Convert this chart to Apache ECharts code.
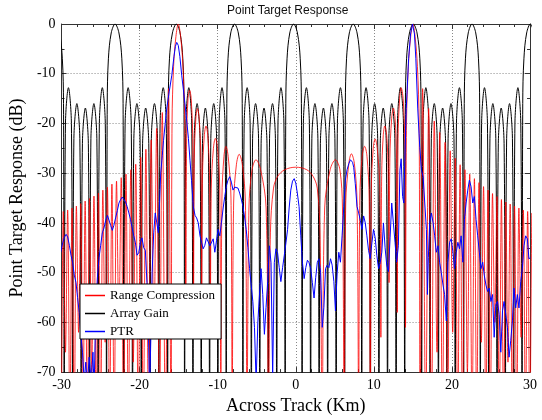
<!DOCTYPE html>
<html>
<head>
<meta charset="utf-8">
<script src="https://cdn.jsdelivr.net/npm/echarts@6/dist/echarts.min.js"></script>
<style>
  html, body { margin: 0; padding: 0; background: #fff; }
  #chart { width: 542px; height: 420px; }
</style>
</head>
<body>
<div id="chart"></div>
<script>
// [across track km, dB]
const seriesNames = ['Range Compression', 'Array Gain', 'PTR'];
const xTicks = [-30, -20, -10, 0, 10, 20, 30];
const yTicks = [0, -10, -20, -30, -40, -50, -60, -70];

const arrayGain = [
  [-30.75,0],[-30.26,-1.8],[-29.90,-7],[-29.75,-16],[-29.66,-80],[-29.50,-20],[-29.12,-12.8],[-28.74,-20],[-28.58,-80],[-28.42,-23],[-28.04,-16],[-27.66,-23],[-27.49,-80],[-27.33,-24],[-26.95,-16.9],[-26.57,-24],[-26.41,-80],[-26.24,-23],[-25.86,-16],[-25.48,-23],[-25.32,-80],[-25.16,-20],[-24.78,-12.8],[-24.40,-20],[-24.24,-80],[-24.15,-16],[-24.00,-7],[-23.64,-1.8],
  [-23.15,0],[-22.65,-1.8],[-22.28,-7],[-22.12,-16],[-22.03,-80],[-21.86,-20],[-21.47,-12.8],[-21.08,-20],[-20.91,-80],[-20.74,-23],[-20.35,-16],[-19.95,-23],[-19.79,-80],[-19.62,-24],[-19.23,-16.9],[-18.83,-24],[-18.66,-80],[-18.50,-23],[-18.10,-16],[-17.71,-23],[-17.54,-80],[-17.38,-20],[-16.98,-12.8],[-16.59,-20],[-16.42,-80],[-16.33,-16],[-16.18,-7],[-15.80,-1.8],
  [-15.30,0],[-14.82,-1.8],[-14.47,-7],[-14.32,-16],[-14.24,-80],[-14.08,-20],[-13.70,-12.8],[-13.33,-20],[-13.17,-80],[-13.01,-23],[-12.64,-16],[-12.27,-23],[-12.11,-80],[-11.95,-24],[-11.58,-16.9],[-11.20,-24],[-11.04,-80],[-10.88,-23],[-10.51,-16],[-10.14,-23],[-9.98,-80],[-9.82,-20],[-9.45,-12.8],[-9.07,-20],[-8.91,-80],[-8.83,-16],[-8.68,-7],[-8.33,-1.8],
  [-7.85,0],[-7.36,-1.8],[-7.01,-7],[-6.86,-16],[-6.77,-80],[-6.61,-20],[-6.23,-12.8],[-5.85,-20],[-5.69,-80],[-5.53,-23],[-5.15,-16],[-4.77,-23],[-4.61,-80],[-4.44,-24],[-4.07,-16.9],[-3.69,-24],[-3.52,-80],[-3.36,-23],[-2.98,-16],[-2.61,-23],[-2.44,-80],[-2.28,-20],[-1.90,-12.8],[-1.52,-20],[-1.36,-80],[-1.28,-16],[-1.12,-7],[-0.77,-1.8],
  [-0.28,0],[0.21,-1.8],[0.57,-7],[0.72,-16],[0.81,-80],[0.97,-20],[1.36,-12.8],[1.74,-20],[1.90,-80],[2.06,-23],[2.45,-16],[2.83,-23],[2.99,-80],[3.15,-24],[3.54,-16.9],[3.92,-24],[4.08,-80],[4.24,-23],[4.63,-16],[5.01,-23],[5.17,-80],[5.33,-20],[5.72,-12.8],[6.10,-20],[6.26,-80],[6.35,-16],[6.50,-7],[6.86,-1.8],
  [7.35,0],[7.85,-1.8],[8.21,-7],[8.36,-16],[8.45,-80],[8.62,-20],[9.00,-12.8],[9.39,-20],[9.55,-80],[9.72,-23],[10.10,-16],[10.49,-23],[10.65,-80],[10.82,-24],[11.20,-16.9],[11.59,-24],[11.75,-80],[11.92,-23],[12.30,-16],[12.69,-23],[12.85,-80],[13.02,-20],[13.40,-12.8],[13.79,-20],[13.95,-80],[14.04,-16],[14.19,-7],[14.56,-1.8],
  [15.05,0],[15.53,-1.8],[15.89,-7],[16.04,-16],[16.12,-80],[16.29,-20],[16.66,-12.8],[17.04,-20],[17.20,-80],[17.36,-23],[17.74,-16],[18.11,-23],[18.27,-80],[18.43,-24],[18.81,-16.9],[19.19,-24],[19.35,-80],[19.51,-23],[19.88,-16],[20.26,-23],[20.42,-80],[20.58,-20],[20.96,-12.8],[21.34,-20],[21.50,-80],[21.58,-16],[21.73,-7],[22.09,-1.8],
  [22.57,0],[23.05,-1.8],[23.40,-7],[23.55,-16],[23.64,-80],[23.80,-20],[24.17,-12.8],[24.55,-20],[24.71,-80],[24.87,-23],[25.24,-16],[25.62,-23],[25.78,-80],[25.94,-24],[26.31,-16.9],[26.68,-24],[26.84,-80],[27.01,-23],[27.38,-16],[27.75,-23],[27.91,-80],[28.07,-20],[28.45,-12.8],[28.82,-20],[28.98,-80],[29.07,-16],[29.22,-7],[29.57,-1.8],
  [30.05,0],[30.53,-1.8]
];

const rangeCompression = [
  [-30.62,-80],[-30.34,-38],[-30.06,-80],[-29.78,-37.7],[-29.5,-66],[-29.22,-37.4],[-28.94,-80],[-28.66,-37],[-28.38,-80],[-28.1,-36.6],[-27.82,-62],[-27.54,-36.1],[-27.26,-80],[-26.98,-35.6],[-26.7,-80],[-26.42,-35.1],[-26.14,-70],[-25.85,-34.6],[-25.57,-80],[-25.28,-34],[-24.99,-80],[-24.71,-33.4],[-24.42,-64],[-24.13,-32.8],[-23.84,-80],[-23.55,-32.2],[-23.26,-80],[-22.96,-31.6],[-22.66,-60],[-22.36,-30.9],[-22.06,-80],[-21.75,-30.2],[-21.44,-80],[-21.13,-29.3],[-20.82,-68],[-20.5,-28.2],[-20.18,-80],[-19.86,-26.8],[-19.53,-80],[-19.2,-25.2],[-18.86,-80],[-18.52,-23.3],[-18.17,-62],[-17.82,-21],[-17.46,-80],[-17.1,-17.8],[-16.7,-80],[-16.3,-13],[-15.98,-80],
  [-15.85,-20],[-15.65,-8.5],[-15.35,-2.5],[-15.05,0],[-14.75,-2.5],[-14.45,-8.5],[-14.22,-20],[-14.08,-62],
  [-13.98,-23],[-13.8,-15],[-13.6,-13.3],[-13.4,-15],[-13.2,-23],[-13.1,-58],
  [-13.0,-27],[-12.8,-19],[-12.6,-17],[-12.38,-19],[-12.15,-27],[-12.05,-54],
  [-11.95,-30.5],[-11.72,-22.5],[-11.5,-20.5],[-11.27,-22.5],[-11.05,-30.5],[-10.95,-63],
  [-10.82,-33],[-10.55,-25],[-10.3,-23],[-10.02,-25],[-9.74,-33],[-9.6,-80],
  [-9.46,-35],[-9.2,-26.6],[-8.95,-24.6],[-8.66,-26.6],[-8.3,-35],[-8.15,-80],
  [-7.96,-36],[-7.6,-28.2],[-7.25,-26.2],[-6.85,-28.2],[-6.45,-36],[-6.25,-80],
  [-6.0,-37],[-5.6,-29.3],[-5.1,-27.3],[-4.5,-29.3],[-3.8,-37],[-3.5,-80],
  [-3.25,-42],[-2.85,-33],[-2.3,-30.6],[-1.4,-29.3],[0,-28.8],[1.4,-29.3],[2.2,-30.6],[2.75,-33],[3.1,-42],[3.38,-80],
  [3.7,-37],[4.4,-29.3],[5.08,-27.3],[5.65,-29.3],[5.98,-37],[6.2,-80],
  [6.4,-36],[6.8,-28],[7.12,-26.1],[7.5,-28],[7.85,-36],[8.05,-80],
  [8.2,-35],[8.5,-26.6],[8.82,-24.6],[9.12,-26.6],[9.4,-35],[9.55,-80],
  [9.68,-33],[9.92,-25],[10.17,-23.1],[10.43,-25],[10.77,-33],[10.9,-63],
  [11.0,-30.5],[11.2,-22.5],[11.4,-20.5],[11.65,-22.5],[11.85,-30.5],[11.95,-52],
  [12.05,-27],[12.28,-19],[12.5,-16.9],[12.72,-19],[12.9,-27],[13.0,-58],
  [13.1,-23],[13.3,-15],[13.5,-12.8],[13.75,-15],[13.95,-23],[14.05,-61],
  [14.18,-20],[14.42,-8.5],[14.72,-2.5],[15.0,0],[15.28,-2.5],[15.58,-8.5],[15.8,-20],[15.92,-80],
  [16.25,-13],[16.64,-80],[17.02,-17],[17.38,-80],[17.74,-19.5],[18.09,-66],[18.44,-21.8],[18.78,-80],[19.12,-23.8],[19.45,-80],[19.78,-25.5],[20.1,-62],[20.42,-27],[20.74,-80],[21.05,-28.3],[21.36,-80],[21.67,-29.3],[21.98,-70],[22.28,-30.2],[22.58,-80],[22.88,-31.1],[23.18,-80],[23.47,-31.9],[23.76,-64],[24.05,-32.7],[24.34,-80],[24.63,-33.4],[24.92,-80],[25.2,-34.1],[25.49,-60],[25.77,-34.7],[26.06,-80],[26.34,-35.3],[26.62,-80],[26.9,-35.8],[27.18,-68],[27.46,-36.2],[27.74,-80],[28.02,-36.6],[28.3,-80],[28.58,-37],[28.86,-63],[29.14,-37.4],[29.42,-80],[29.7,-37.7],[29.98,-80],[30.26,-38],[30.54,-80]
];

const ptr = [
  [-30.2,-46.5],[-30.06,-46.2],[-29.85,-44],[-29.64,-42.9],[-29.42,-42.3],[-29.22,-42.8],[-29.0,-44.5],[-28.79,-46.5],[-28.58,-48],[-28.37,-50.5],[-28.15,-52],[-27.95,-55],[-27.74,-58],[-27.55,-62],[-27.32,-66],[-27.1,-72],[-26.9,-68],[-26.7,-73],[-26.47,-67],[-26.2,-72],[-25.98,-66],[-25.84,-74],[-25.62,-58],[-25.41,-51],[-25.2,-47],[-24.99,-44.5],[-24.78,-42],[-24.56,-41],[-24.35,-39.5],[-24.12,-38.5],[-23.93,-38.3],[-23.71,-40.5],[-23.5,-41.5],[-23.3,-40.5],[-23.08,-39],[-22.85,-37.5],[-22.65,-36],[-22.44,-35.3],[-22.22,-34.8],[-22.02,-35.2],[-21.8,-35.8],[-21.6,-36.7],[-21.38,-38],[-21.17,-39.3],[-20.96,-41],[-20.75,-42.6],[-20.54,-44],[-20.33,-46.5],[-20.12,-46],[-19.9,-44],[-19.7,-43],[-19.48,-45],[-19.27,-45.5],[-19.06,-52],[-18.9,-60],[-18.72,-74],[-18.55,-62],[-18.4,-50],[-18.2,-42],[-18.0,-38],[-17.8,-40],[-17.6,-42],[-17.45,-36],[-17.3,-30],[-17.1,-26.5],[-16.94,-23.4],[-16.72,-20],[-16.52,-16.9],[-16.2,-13.5],[-15.88,-10.3],[-15.6,-6.5],[-15.42,-4.5],[-15.25,-3.7],[-15.05,-4.3],[-14.85,-6.5],[-14.61,-10.3],[-14.3,-14.5],[-13.98,-19.3],[-13.75,-23],[-13.55,-27.4],[-13.35,-31.5],[-13.13,-36.7],
  [-12.9,-38.5],[-12.7,-39],[-12.49,-40],[-12.27,-42.6],[-12.05,-44],[-11.86,-45.2],[-11.65,-44.5],[-11.44,-43],[-11.22,-43.2],[-11.0,-44.6],[-10.8,-44.6],[-10.58,-43.2],[-10.37,-45.9],[-10.15,-43.5],[-9.95,-41.3],[-9.73,-42.6],[-9.53,-40],[-9.3,-37],[-9.1,-34.7],[-8.88,-32.5],[-8.68,-31.4],[-8.46,-30.7],[-8.25,-31.8],[-8.04,-33.4],[-7.82,-32.8],[-7.62,-32.4],[-7.4,-33],[-7.19,-34],[-6.98,-35.2],[-6.77,-36.7],[-6.56,-38.8],[-6.35,-41.3],[-6.13,-45],[-5.92,-49.2],[-5.71,-52.5],[-5.5,-55.8],[-5.29,-61],[-5.08,-72],[-4.86,-60],[-4.65,-54.4],[-4.45,-49.2],[-4.23,-54.4],[-4.02,-62.4],[-3.81,-57],[-3.6,-51.8],[-3.38,-44.6],[-3.17,-48],[-2.96,-71],[-2.75,-48],[-2.54,-45.2],[-2.33,-46],[-2.12,-49],[-1.91,-51.8],[-1.69,-49],[-1.47,-46.5],[-1.26,-44],[-1.05,-41.3],[-0.85,-37],[-0.64,-33.4],[-0.42,-31.6],[-0.2,-31.1],
  [0.0,-32],[0.2,-34],[0.42,-36.7],[0.64,-42.6],[0.85,-47.9],[1.07,-51.2],[1.28,-49],[1.49,-47.5],[1.7,-48],[1.91,-49.2],[2.12,-52],[2.34,-55.1],[2.55,-51],[2.76,-47.9],[2.97,-47.2],[3.18,-50],[3.39,-61],[3.6,-57],[3.81,-49.2],[4.02,-48.5],[4.24,-49],[4.45,-47.2],[4.66,-48.5],[4.88,-51.8],[5.08,-57.7],[5.3,-50],[5.51,-45.9],[5.72,-47.9],[5.93,-42.6],[6.15,-36.7],[6.35,-31.4],[6.57,-29.3],[6.79,-28.1],[7.0,-27.3],[7.12,-27.1],[7.27,-27.8],[7.42,-28.8],[7.62,-32.1],[7.84,-36.7],[8.06,-38],[8.27,-39.5],[8.48,-41.3],[8.69,-38.6],[8.9,-40],[9.11,-42.6],[9.32,-45.5],[9.53,-47.2],[9.75,-44],[9.96,-41.3],[10.17,-43],[10.38,-46.5],[10.6,-49.2],[10.81,-48],[11.02,-45.9],[11.23,-40],[11.44,-45],[11.65,-48.5],[11.87,-49.8],[12.08,-43],[12.29,-36],[12.5,-40],[12.71,-43.9],[12.92,-47.9],[13.14,-44.6],[13.34,-29.4],[13.5,-27.1],[13.68,-34.7],[13.84,-36],
  [13.97,-27],[14.15,-17],[14.45,-7],[14.7,-2],[14.95,0],[15.2,-2],[15.38,-7],[15.62,-16.9],[15.88,-24.8],[16.1,-29.4],[16.31,-30.7],[16.52,-36],[16.73,-41.3],[16.86,-54.4],[16.98,-47],[17.15,-40],[17.37,-38],[17.59,-40],[17.79,-42.6],[18.0,-45.9],[18.22,-44.6],[18.42,-47.9],[18.64,-50],[18.86,-52.5],[19.06,-54.4],[19.28,-59.7],[19.49,-47.9],[19.7,-43.9],[19.91,-43.2],[20.13,-45.9],[20.33,-49.2],[20.55,-46],[20.76,-43.9],[20.97,-45.2],[21.18,-42.6],[21.4,-47.9],[21.6,-39.3],[21.82,-36],[22.03,-33.4],[22.24,-31.4],[22.45,-32.7],[22.67,-36],[22.87,-34.7],[23.09,-39.3],[23.3,-42.6],[23.51,-45.9],[23.72,-49.2],[23.94,-47.9],[24.14,-50.5],[24.36,-52.5],[24.57,-53.8],[24.78,-53.1],[24.99,-55.8],[25.21,-54.4],[25.41,-63],[25.63,-56.4],[25.84,-55.8],[26.05,-58.4],[26.26,-66],[26.48,-57.7],[26.68,-55.8],[26.9,-58.4],[27.11,-61],[27.32,-67],[27.53,-63.7],[27.75,-59.7],[27.95,-53.1],[28.17,-57.1],[28.38,-54.4],[28.59,-57.1],[28.81,-51.8],[29.02,-49.2],[29.23,-44.6],[29.44,-42.6],[29.66,-43.2],[29.86,-47.2],[30.05,-47]
];

const serif = "'Liberation Serif', 'DejaVu Serif', serif";
const frame = '#333';

function axisBase(extra) {
  return Object.assign({
    type: 'value',
    axisLine: { show: true, onZero: false, lineStyle: { color: frame, width: 1 } },
    axisTick: { show: true, inside: true, length: 5, lineStyle: { color: frame } },
    minorTick: { show: true, length: 3, lineStyle: { color: frame } },
    splitLine: { show: false },
    axisLabel: { show: false }
  }, extra);
}

const chart = echarts.init(document.getElementById('chart'), null, { renderer: 'canvas' });

chart.setOption({
  animation: false,
  backgroundColor: '#fff',
  title: {
    text: 'Point Target Response',
    left: 227,
    top: 5,
    padding: 0,
    textStyle: { fontFamily: "'Liberation Sans', Arial, sans-serif", fontSize: 12, fontWeight: 'normal', color: '#111' }
  },
  grid: { left: 57, right: 12, top: 24, bottom: 41 },
  legend: {
    data: seriesNames,
    orient: 'vertical',
    left: 80,
    top: 284,
    padding: [5, 6, 1, 5],
    itemGap: 5,
    itemWidth: 20,
    itemHeight: 1.5,
    icon: 'rect',
    backgroundColor: '#fff',
    borderColor: '#000',
    borderWidth: 1,
    selectedMode: false,
    textStyle: { fontFamily: serif, fontSize: 13, color: '#000', lineHeight: 12 }
  },
  xAxis: [
    axisBase({
      min: xTicks[0], max: xTicks[xTicks.length - 1], interval: 10,
      position: 'bottom',
      minorTick: { show: true, splitNumber: 5, length: 3, lineStyle: { color: frame } },
      splitLine: { show: true, lineStyle: { type: [1, 2], color: '#888', width: 1 } },
      axisLabel: { show: true, fontFamily: serif, fontSize: 14, color: '#000', margin: 6 },
      name: 'Across Track (Km)',
      nameLocation: 'middle',
      nameGap: 17,
      nameTextStyle: { fontFamily: serif, fontSize: 18, color: '#000' }
    }),
    axisBase({
      min: xTicks[0], max: xTicks[xTicks.length - 1], interval: 10,
      position: 'top',
      minorTick: { show: true, splitNumber: 5, length: 3, lineStyle: { color: frame } }
    })
  ],
  yAxis: [
    axisBase({
      min: yTicks[yTicks.length - 1], max: yTicks[0], interval: 10,
      position: 'left',
      minorTick: { show: true, splitNumber: 2, length: 3, lineStyle: { color: frame } },
      splitLine: { show: true, lineStyle: { type: [1, 2], color: '#888', width: 1 } },
      axisLabel: { show: true, fontFamily: serif, fontSize: 14, color: '#000', margin: 6 },
      name: 'Point Target Response (dB)',
      nameLocation: 'middle',
      nameGap: 28,
      nameTextStyle: { fontFamily: serif, fontSize: 18, color: '#000' }
    }),
    axisBase({
      min: yTicks[yTicks.length - 1], max: yTicks[0], interval: 10,
      position: 'right',
      minorTick: { show: true, splitNumber: 2, length: 3, lineStyle: { color: frame } }
    })
  ],
  series: [
    {
      name: 'Array Gain', type: 'line', data: arrayGain,
      showSymbol: false, symbol: 'none', smooth: 0.35, clip: true,
      lineStyle: { color: '#000', width: 1 }, itemStyle: { color: '#000' }
    },
    {
      name: 'Range Compression', type: 'line', data: rangeCompression,
      showSymbol: false, symbol: 'none', smooth: 0.35, clip: true,
      lineStyle: { color: '#ff0000', width: 0.8 }, itemStyle: { color: '#ff0000' }
    },
    {
      name: 'PTR', type: 'line', data: ptr,
      showSymbol: false, symbol: 'none', smooth: false, clip: true,
      lineStyle: { color: '#0000ff', width: 1 }, itemStyle: { color: '#0000ff' }
    }
  ]
});
</script>
</body>
</html>
